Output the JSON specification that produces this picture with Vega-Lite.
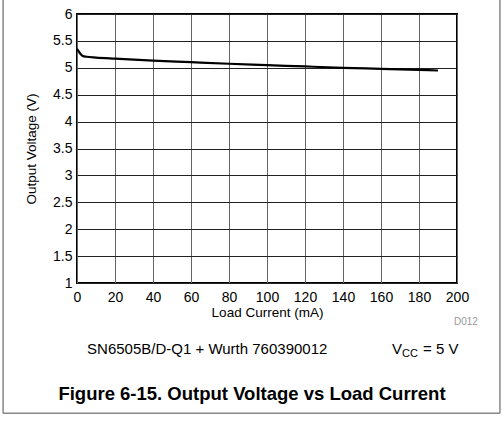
{
  "$schema": "https://vega.github.io/schema/vega-lite/v6.json",
  "width": 380,
  "height": 269,
  "autosize": "none",
  "padding": {"left": 77, "top": 14, "right": 46, "bottom": 141},
  "background": "white",
  "config": {
    "font": "Liberation Sans",
    "numberFormat": "~f",
    "view": {"stroke": "black", "strokeWidth": 2},
    "axis": {"labelColor": "black", "titleColor": "black", "labelFont": "Liberation Sans", "titleFont": "Liberation Sans",
      "labelOverlap": false, "labelFlush": false, "tickSize": 0, "domain": false, "grid": true, "gridWidth": 1,
      "labelFontSize": 14, "titleFontSize": 13.5, "titleFontWeight": "normal", "tickCount": 10},
    "axisX": {"gridColor": "#666", "labelPadding": 7, "titlePadding": 1},
    "axisY": {"gridColor": "#222", "labelPadding": 5, "titlePadding": 14}
  },
  "layer": [
    {
      "data": {
        "values": [
          {"current": 0, "voltage": 5.35},
          {"current": 0.5, "voltage": 5.33},
          {"current": 1, "voltage": 5.30},
          {"current": 2, "voltage": 5.25},
          {"current": 3, "voltage": 5.22},
          {"current": 5, "voltage": 5.205},
          {"current": 10, "voltage": 5.19},
          {"current": 20, "voltage": 5.17},
          {"current": 40, "voltage": 5.135},
          {"current": 60, "voltage": 5.105},
          {"current": 80, "voltage": 5.075},
          {"current": 100, "voltage": 5.05},
          {"current": 120, "voltage": 5.025},
          {"current": 140, "voltage": 5.0},
          {"current": 160, "voltage": 4.98},
          {"current": 180, "voltage": 4.96},
          {"current": 190, "voltage": 4.95}
        ]
      },
      "mark": {"type": "line", "color": "black", "strokeWidth": 2.2, "interpolate": "monotone", "clip": true},
      "encoding": {
        "x": {
          "field": "current", "type": "quantitative",
          "scale": {"domain": [0, 200], "nice": false, "zero": false},
          "axis": {"title": "Load Current (mA)"}
        },
        "y": {
          "field": "voltage", "type": "quantitative",
          "scale": {"domain": [1, 6], "nice": false, "zero": false},
          "axis": {"title": "Output Voltage (V)"}
        }
      }
    },
    {
      "data": {"values": [{"label": "SN6505B/D-Q1 + Wurth 760390012"}]},
      "mark": {"type": "text", "align": "left", "baseline": "alphabetic", "fontSize": 15, "color": "black"},
      "encoding": {"x": {"datum": 5.3}, "y": {"datum": -0.32}, "text": {"field": "label"}}
    },
    {
      "data": {"values": [{"label": "V"}]},
      "mark": {"type": "text", "align": "left", "baseline": "alphabetic", "fontSize": 15, "color": "black"},
      "encoding": {"x": {"datum": 165.8}, "y": {"datum": -0.32}, "text": {"field": "label"}}
    },
    {
      "data": {"values": [{"label": "CC"}]},
      "mark": {"type": "text", "align": "left", "baseline": "alphabetic", "fontSize": 11, "color": "black", "dy": 3},
      "encoding": {"x": {"datum": 171.1}, "y": {"datum": -0.32}, "text": {"field": "label"}}
    },
    {
      "data": {"values": [{"label": "= 5 V"}]},
      "mark": {"type": "text", "align": "left", "baseline": "alphabetic", "fontSize": 15, "color": "black"},
      "encoding": {"x": {"datum": 182.1}, "y": {"datum": -0.32}, "text": {"field": "label"}}
    },
    {
      "data": {"values": [{"label": "D012"}]},
      "mark": {"type": "text", "align": "left", "baseline": "middle", "fontSize": 10, "color": "#999"},
      "encoding": {"x": {"datum": 198.4}, "y": {"datum": 0.275}, "text": {"field": "label"}}
    },
    {
      "data": {"values": [{"label": "Figure 6-15. Output Voltage vs Load Current"}]},
      "mark": {"type": "text", "align": "center", "baseline": "alphabetic", "fontSize": 18.5, "fontWeight": "bold", "color": "black"},
      "encoding": {"x": {"datum": 92.1}, "y": {"datum": -1.175}, "text": {"field": "label"}}
    },
    {
      "data": {"values": [{}]},
      "mark": {"type": "rule", "color": "#888", "strokeWidth": 1.5},
      "encoding": {"x": {"datum": -38.9}, "y": {"datum": 6.3}, "y2": {"datum": -1.42}}
    },
    {
      "data": {"values": [{}]},
      "mark": {"type": "rule", "color": "#888", "strokeWidth": 1.5},
      "encoding": {"x": {"datum": 222.6}, "y": {"datum": 6.3}, "y2": {"datum": -1.42}}
    },
    {
      "data": {"values": [{}]},
      "mark": {"type": "rule", "color": "#888", "strokeWidth": 1.5},
      "encoding": {"x": {"datum": -38.9}, "x2": {"datum": 222.6}, "y": {"datum": -1.42}}
    }
  ]
}
